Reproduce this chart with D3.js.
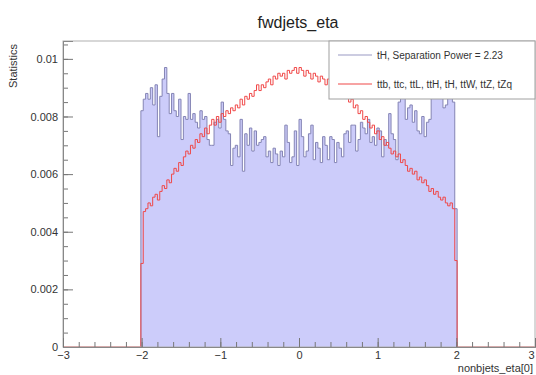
<!DOCTYPE html>
<html><head><meta charset="utf-8">
<script src="https://cdn.jsdelivr.net/npm/d3@7/dist/d3.min.js"></script>
<style>
html,body{margin:0;padding:0;background:#fff;}
text{font-family:"Liberation Sans",Arial,Helvetica,sans-serif;}
</style></head>
<body><svg id="c" width="536" height="375"></svg>
<script>
// ---- data ----
const title = "fwdjets_eta";
const xLabel = "nonbjets_eta[0]";
const yLabel = "Statistics";
const binStart = -2.01;
const binWidth = 0.03;
const xTicks = [-3, -2, -1, 0, 1, 2, 3];
const yTicks = [0, 0.002, 0.004, 0.006, 0.008, 0.01];
const legendLabels = ["tH, Separation Power = 2.23", "ttb, ttc, ttL, ttH, tH, ttW, ttZ, tZq"];
// signal tH (normalised bin contents)
const tH = [
0.0082,0.0086,0.0088,0.0086,0.0090,0.0084,0.0091,0.0073,0.0087,0.0093,
0.0097,0.0088,0.0081,0.0088,0.0082,0.0080,0.0086,0.0072,0.0080,0.0079,
0.0088,0.0079,0.0081,0.0078,0.0076,0.0082,0.0079,0.0080,0.0072,0.0070,
0.0070,0.0078,0.0079,0.0076,0.0085,0.0079,0.0075,0.0074,0.0063,0.0069,
0.0070,0.0066,0.0079,0.0061,0.0074,0.0070,0.0076,0.0068,0.0075,0.0070,
0.0071,0.0072,0.0073,0.0066,0.0068,0.0064,0.0069,0.0067,0.0063,0.0068,
0.0066,0.0077,0.0071,0.0064,0.0066,0.0075,0.0063,0.0079,0.0073,0.0066,
0.0068,0.0074,0.0077,0.0065,0.0071,0.0069,0.0064,0.0073,0.0070,0.0065,
0.0073,0.0072,0.0064,0.0071,0.0069,0.0066,0.0074,0.0075,0.0071,0.0077,
0.0077,0.0068,0.0072,0.0078,0.0076,0.0074,0.0079,0.0071,0.0073,0.0070,
0.0076,0.0075,0.0066,0.0072,0.0070,0.0081,0.0074,0.0072,0.0065,0.0085,
0.0088,0.0087,0.0079,0.0083,0.0084,0.0078,0.0082,0.0075,0.0074,0.0080,
0.0073,0.0078,0.0079,0.0087,0.0090,0.0093,0.0087,0.0092,0.0083,0.0084,
0.0091,0.0090,0.0085,0.0048];
// background sum
const bkg = [
0.0029,0.0047,0.0048,0.0050,0.0049,0.0052,0.0053,0.0051,0.0054,0.0056,
0.0055,0.0058,0.0057,0.0060,0.0062,0.0061,0.0064,0.0063,0.0066,0.0068,
0.0067,0.0070,0.0069,0.0072,0.0071,0.0074,0.0073,0.0076,0.0074,0.0077,
0.0079,0.0077,0.0080,0.0078,0.0081,0.0080,0.0082,0.0081,0.0083,0.0082,
0.0084,0.0083,0.0086,0.0084,0.0087,0.0086,0.0088,0.0087,0.0089,0.0091,
0.0089,0.0091,0.0090,0.0092,0.0093,0.0091,0.0094,0.0093,0.0095,0.0094,
0.0095,0.0093,0.0096,0.0095,0.0096,0.0097,0.0095,0.0097,0.0096,0.0094,
0.0096,0.0095,0.0093,0.0095,0.0094,0.0092,0.0094,0.0093,0.0091,0.0093,
0.0092,0.0090,0.0091,0.0089,0.0090,0.0088,0.0087,0.0088,0.0085,0.0086,
0.0083,0.0084,0.0081,0.0082,0.0079,0.0080,0.0078,0.0076,0.0077,0.0074,
0.0075,0.0072,0.0073,0.0070,0.0071,0.0069,0.0067,0.0068,0.0066,0.0067,
0.0064,0.0065,0.0063,0.0061,0.0062,0.0060,0.0061,0.0058,0.0059,0.0057,
0.0058,0.0056,0.0054,0.0055,0.0053,0.0054,0.0052,0.0051,0.0052,0.0050,
0.0049,0.0050,0.0048,0.0030];

// ---- layout ----
const L = 63, R = 535, T = 41, B = 347;
const svg = d3.select("#c");
const x = d3.scaleLinear().domain([-3, 3]).range([L, R]);
const y = d3.scaleLinear().domain([0, 0.01062]).range([B, T]);

const binEnd = binStart + binWidth * tH.length;
const edge = i => binStart + binWidth * i;

// blue filled histogram
const sigPts = tH.map((v, i) => ({x: edge(i), y: v}));
sigPts.push({x: binEnd, y: tH[tH.length - 1]});
svg.append("path")
  .attr("d", d3.area().curve(d3.curveStepAfter).x(d => x(d.x)).y0(y(0)).y1(d => y(d.y))(sigPts))
  .attr("fill", "#ccccfa").attr("stroke", "none");
const sigLine = [{x: binStart, y: 0}].concat(tH.map((v, i) => ({x: edge(i), y: v})), [{x: binEnd, y: 0}]);
svg.append("path")
  .attr("d", d3.line().curve(d3.curveStepAfter).x(d => x(d.x)).y(d => y(d.y))(sigLine))
  .attr("fill", "none").attr("stroke", "#8484b4").attr("stroke-width", 1);

// red background line
const bkgLine = [{x: -3, y: 0}].concat(bkg.map((v, i) => ({x: edge(i), y: v})), [{x: binEnd, y: 0}, {x: 3, y: 0}]);
svg.append("path")
  .attr("d", d3.line().curve(d3.curveStepAfter).x(d => x(d.x)).y(d => y(d.y))(bkgLine))
  .attr("fill", "none").attr("stroke", "#f04848").attr("stroke-width", 1);

// frame
svg.append("rect").attr("x", L).attr("y", T).attr("width", R - L).attr("height", B - T)
  .attr("fill", "none").attr("stroke", "#b0b0b0").attr("stroke-width", 1);

// axes
const fmtY = d => d === 0 ? "0" : String(+d.toFixed(3));
const yMinor = d3.range(0, 0.01051, 0.0005);
const gyMin = svg.append("g").attr("transform", `translate(${L},0)`)
  .call(d3.axisLeft(y).tickValues(yMinor).tickSize(-5).tickFormat(""));
const gy = svg.append("g").attr("transform", `translate(${L},0)`)
  .call(d3.axisLeft(y).tickValues(yTicks).tickSize(-10).tickPadding(5).tickFormat(fmtY));
const xMinor = d3.range(-3, 3.001, 0.2);
const gxMin = svg.append("g").attr("transform", `translate(0,${B})`)
  .call(d3.axisBottom(x).tickValues(xMinor).tickSize(-5).tickFormat(""));
const gx = svg.append("g").attr("transform", `translate(0,${B})`)
  .call(d3.axisBottom(x).tickValues(xTicks).tickSize(-9).tickPadding(4).tickFormat(d3.format("d")));
[gyMin, gy, gxMin, gx].forEach(g => {
  g.select(".domain").attr("stroke", "#888");
  g.selectAll(".tick line").attr("stroke", "#777");
  g.selectAll("text").attr("fill", "#333").attr("font-size", 11).attr("font-family", "Liberation Sans, Arial, sans-serif");
});
// keep the last x label inside the picture
gx.selectAll(".tick text").filter(d => d === 3).attr("text-anchor", "end").attr("dx", "-1");

// titles
svg.append("text").attr("x", 298).attr("y", 28).attr("text-anchor", "middle")
  .attr("font-size", 16).attr("fill", "#222").text(title);
svg.append("text").attr("x", 533).attr("y", 372).attr("text-anchor", "end")
  .attr("font-size", 11).attr("fill", "#333").text(xLabel);
svg.append("text").attr("transform", "translate(17,44) rotate(-90)").attr("text-anchor", "end")
  .attr("font-size", 11).attr("fill", "#333").text(yLabel);

// legend
const lg = svg.append("g");
lg.append("rect").attr("x", 329).attr("y", 41).attr("width", 206).attr("height", 58)
  .attr("fill", "#fff").attr("stroke", "#a0a0a0").attr("stroke-width", 1);
const legColors = ["#9a9ac4", "#f04848"];
legendLabels.forEach((lab, i) => {
  const yy = 55 + i * 29;
  lg.append("line").attr("x1", 338).attr("x2", 372).attr("y1", yy).attr("y2", yy)
    .attr("stroke", legColors[i]).attr("stroke-width", 1.2);
  lg.append("text").attr("x", 377).attr("y", yy + 4).attr("font-size", 10).attr("fill", "#333").text(lab);
});
</script></body></html>
